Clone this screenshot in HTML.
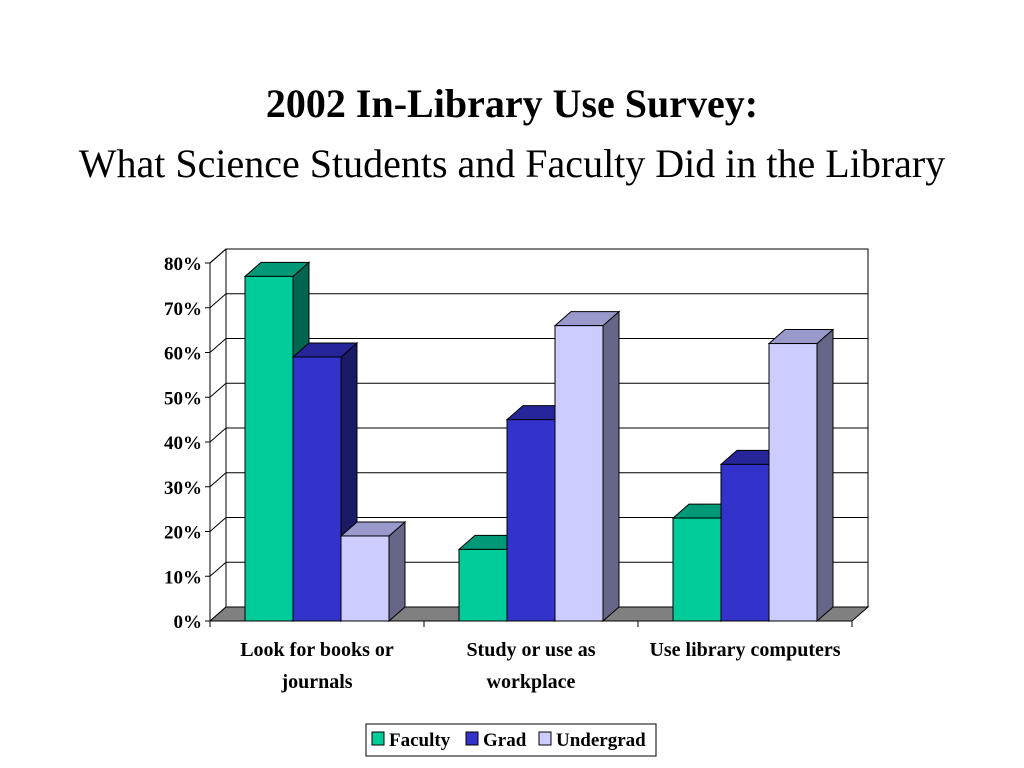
<!DOCTYPE html>
<html><head><meta charset="utf-8"><style>
body{margin:0;background:#fff;width:1024px;height:768px;overflow:hidden;font-family:"Liberation Serif",serif}
.t{position:absolute;left:0;width:1024px;text-align:center;color:#000}
</style></head><body>
<div class="t" style="top:80px;font-size:40px;font-weight:bold">2002 In-Library Use Survey:</div>
<div class="t" style="top:140px;font-size:40px">What Science Students and Faculty Did in the Library</div>
<svg id="c" width="1024" height="768" style="position:absolute;left:0;top:0" font-family="Liberation Serif, serif"></svg>
<script>
const categories=[["Look for books or","journals"],["Study or use as","workplace"],["Use library computers"]];
const seriesNames=["Faculty","Grad","Undergrad"];
const faculty=[77,16,23];
const grad=[59,45,35];
const undergrad=[19,66,62];
const ticks=[0,10,20,30,40,50,60,70,80];
const svg=document.getElementById('c');
const NS='http://www.w3.org/2000/svg';
function mk(t,a,p){const e=document.createElementNS(NS,t);for(const k in a)e.setAttribute(k,a[k]);(p||svg).appendChild(e);return e;}
const x0=210,x1=852,y0=621,dx=16,dy=-14,ky=358/80;
const Y=v=>y0-v*ky;
const cw=(x1-x0)/categories.length;
const cols=[["#00CC99","#009977","#006650"],["#3333CC","#26269a","#1a1a66"],["#CCCCFF","#9999CC","#666688"]];
// back wall
let w=mk('rect',{x:x0+dx,y:Y(80)+dy,width:x1-x0,height:80*ky,fill:'#fff',stroke:'#000'});

mk('line',{x1:x0,y1:Y(80),x2:x0+dx,y2:Y(80)+dy,stroke:'#000'});
ticks.forEach(t=>{
 let g=mk('line',{x1:x0+dx,y1:Y(t)+dy,x2:x1+dx,y2:Y(t)+dy,stroke:'#000'});
 
 mk('line',{x1:x0,y1:Y(t),x2:x0+dx,y2:Y(t)+dy,stroke:'#000'});
 mk('line',{x1:x0-5,y1:Y(t),x2:x0,y2:Y(t),stroke:'#000'});
 let l=mk('text',{x:x0-8,y:Y(t)+7,'text-anchor':'end','font-size':19,'font-weight':'bold'});
 l.textContent=t+'%';
});
// floor
let f=mk('polygon',{points:`${x0},${y0} ${x1},${y0} ${x1+dx},${y0+dy} ${x0+dx},${y0+dy}`,fill:'#808080',stroke:'#000'});

mk('line',{x1:x0,y1:Y(0),x2:x0,y2:Y(80),stroke:'#000'});
mk('line',{x1:x0,y1:y0,x2:x1,y2:y0,stroke:'#000'});
const series=[faculty,grad,undergrad];
categories.forEach((c,i)=>{
 const cx=x0+i*cw;
 mk('line',{x1:cx,y1:y0,x2:cx,y2:y0+6,stroke:'#000'});
 c.forEach((ln,j)=>{let t=mk('text',{x:cx+cw/2,y:y0+35+j*32,'text-anchor':'middle','font-size':20,'font-weight':'bold'});t.textContent=ln;});
 series.forEach((s,k)=>{
  const bw=48,bx=cx+35+k*bw,by=Y(s[i]);
  const g=mk('g',{});
  mk('polygon',{points:`${bx+bw},${by} ${bx+bw+dx},${by+dy} ${bx+bw+dx},${y0+dy} ${bx+bw},${y0}`,fill:cols[k][2],stroke:'#000'},g);
  mk('polygon',{points:`${bx},${by} ${bx+dx},${by+dy} ${bx+bw+dx},${by+dy} ${bx+bw},${by}`,fill:cols[k][1],stroke:'#000'},g);
  mk('rect',{x:bx,y:by,width:bw,height:y0-by,fill:cols[k][0],stroke:'#000'},g);
 });
});
mk('line',{x1:x1,y1:y0,x2:x1,y2:y0+6,stroke:'#000'});
// legend
const lg=mk('g',{});
mk('rect',{x:366,y:724,width:290,height:32,fill:'#fff',stroke:'#000'},lg);
const lx=[372,466,539];
seriesNames.forEach((n,k)=>{
 const e=mk('g',{},lg);
 mk('rect',{x:lx[k],y:732,width:12,height:13,fill:cols[k][0],stroke:'#000'},e);
 const t=mk('text',{x:lx[k]+17,y:746,'font-size':19,'font-weight':'bold'},e);t.textContent=n;
});
</script>
</body></html>
